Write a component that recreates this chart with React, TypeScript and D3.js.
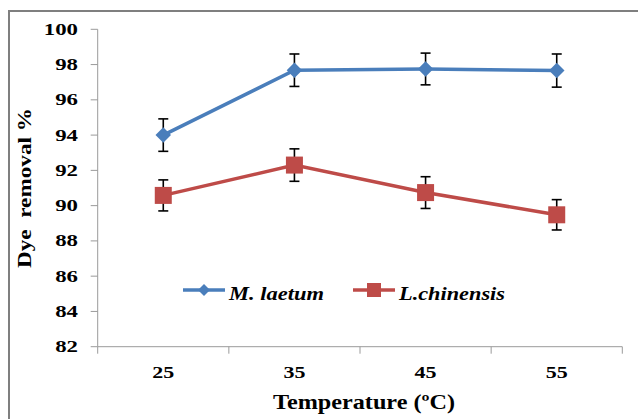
import React from "react";
import * as d3 from "d3";

// Temperature (ºC) categories
const temps = ["25", "35", "45", "55"];

// Dye removal % per series, with +/- error
const laetum = [94.0, 97.68, 97.75, 97.66];
const laetumErr = [0.92, 0.92, 0.9, 0.94];
const chinensis = [90.58, 92.3, 90.74, 89.48];
const chinensisErr = [0.88, 0.92, 0.9, 0.86];

const yTicks = [82, 84, 86, 88, 90, 92, 94, 96, 98, 100];

const W = 638;
const H = 419;
const margin = { top: 29.3, right: 15.7, bottom: 72.3, left: 97.7 };

const series = [
  { name: "M. laetum", values: laetum, err: laetumErr, color: "#4a7ebb", shape: "diamond" },
  { name: "L.chinensis", values: chinensis, err: chinensisErr, color: "#be4b48", shape: "square" },
];

const axisColor = "#9a9a9a";
const frameColor = "#7f7f7f";

function Marker({ shape, x, y, color, size }: { shape: string; x: number; y: number; color: string; size: number }) {
  if (shape === "diamond") {
    const r = size / 2;
    return <path d={`M${x},${y - r}L${x + r},${y}L${x},${y + r}L${x - r},${y}Z`} fill={color} />;
  }
  return <rect x={x - size / 2} y={y - size / 2} width={size} height={size} fill={color} />;
}

export default function App() {
  const x = d3.scaleBand().domain(temps).range([margin.left, W - margin.right]);
  const y = d3.scaleLinear().domain([82, 100]).range([H - margin.bottom, margin.top]);
  const cx = (t: string) => (x(t) as number) + x.bandwidth() / 2;
  const line = d3
    .line<number>()
    .x((_, i) => cx(temps[i]))
    .y((d) => y(d));

  const bottom = H - margin.bottom;
  const xEdges = [...temps.map((t) => x(t) as number), W - margin.right];

  // legend positions
  const legY = 290;
  const legend = [
    { s: series[0], x0: 183, x1: 225, tx: 229, tw: 95, ms: 12 },
    { s: series[1], x0: 353, x1: 395, tx: 399, tw: 106, ms: 14 },
  ];

  return (
    <svg
      width={W}
      height={H}
      style={{ position: "absolute", left: 0, top: 0, background: "#fff", fontFamily: "Liberation Serif" }}
    >
      {/* outer frame */}
      <rect x={9} y={11} width={700} height={500} fill="none" stroke={frameColor} strokeWidth={2} />

      {/* y axis */}
      <line x1={margin.left} x2={margin.left} y1={margin.top} y2={bottom} stroke={axisColor} />
      {yTicks.map((t) => (
        <g key={t}>
          <line x1={margin.left - 7} x2={margin.left} y1={y(t)} y2={y(t)} stroke={axisColor} />
          <text
            x={78}
            y={y(t) + 5.5}
            textAnchor="end"
            fontSize={17}
            fontWeight="bold"
            fill="#000"
            textLength={String(t).length * 11.4}
            lengthAdjust="spacingAndGlyphs"
          >
            {t}
          </text>
        </g>
      ))}

      {/* x axis */}
      <line x1={margin.left} x2={W - margin.right} y1={bottom} y2={bottom} stroke={axisColor} />
      {xEdges.map((e, i) => (
        <line key={i} x1={e} x2={e} y1={bottom} y2={bottom + 7} stroke={axisColor} />
      ))}
      {temps.map((t) => (
        <text
          key={t}
          x={cx(t)}
          y={378}
          textAnchor="middle"
          fontSize={17}
          fontWeight="bold"
          fill="#000"
          textLength={22}
          lengthAdjust="spacingAndGlyphs"
        >
          {t}
        </text>
      ))}

      {/* axis titles */}
      <text
        transform={`translate(31,${(margin.top + bottom) / 2}) rotate(-90)`}
        textAnchor="middle"
        fontSize={19}
        fontWeight="bold"
        fill="#000"
        textLength={160}
        lengthAdjust="spacingAndGlyphs"
        style={{ whiteSpace: "pre" }}
      >
        {"Dye  removal %"}
      </text>
      <text
        x={(margin.left + W - margin.right) / 2 + 4}
        y={409}
        textAnchor="middle"
        fontSize={21}
        fontWeight="bold"
        fill="#000"
        textLength={182}
        lengthAdjust="spacingAndGlyphs"
      >
        Temperature (ºC)
      </text>

      {/* series */}
      {series.map((s) => (
        <g key={s.name}>
          <path d={line(s.values) || ""} fill="none" stroke={s.color} strokeWidth={3.5} />
          {s.values.map((v, i) => {
            const px = cx(temps[i]);
            const top = y(v + s.err[i]);
            const bot = y(v - s.err[i]);
            return (
              <g key={i} stroke="#000" strokeWidth={1.6}>
                <line x1={px} x2={px} y1={top} y2={bot} />
                <line x1={px - 5} x2={px + 5} y1={top} y2={top} />
                <line x1={px - 5} x2={px + 5} y1={bot} y2={bot} />
              </g>
            );
          })}
          {s.values.map((v, i) => (
            <Marker key={i} shape={s.shape} x={cx(temps[i])} y={y(v)} color={s.color} size={s.shape === "diamond" ? 15.5 : 17} />
          ))}
        </g>
      ))}

      {/* legend */}
      {legend.map(({ s, x0, x1, tx, tw, ms }) => (
        <g key={s.name}>
          <line x1={x0} x2={x1} y1={legY} y2={legY} stroke={s.color} strokeWidth={3.5} />
          <Marker shape={s.shape} x={(x0 + x1) / 2} y={legY} color={s.color} size={ms} />
          <text
            x={tx}
            y={300}
            fontSize={18.5}
            fontWeight="bold"
            fontStyle="italic"
            fill="#000"
            textLength={tw}
            lengthAdjust="spacingAndGlyphs"
          >
            {s.name}
          </text>
        </g>
      ))}
    </svg>
  );
}
